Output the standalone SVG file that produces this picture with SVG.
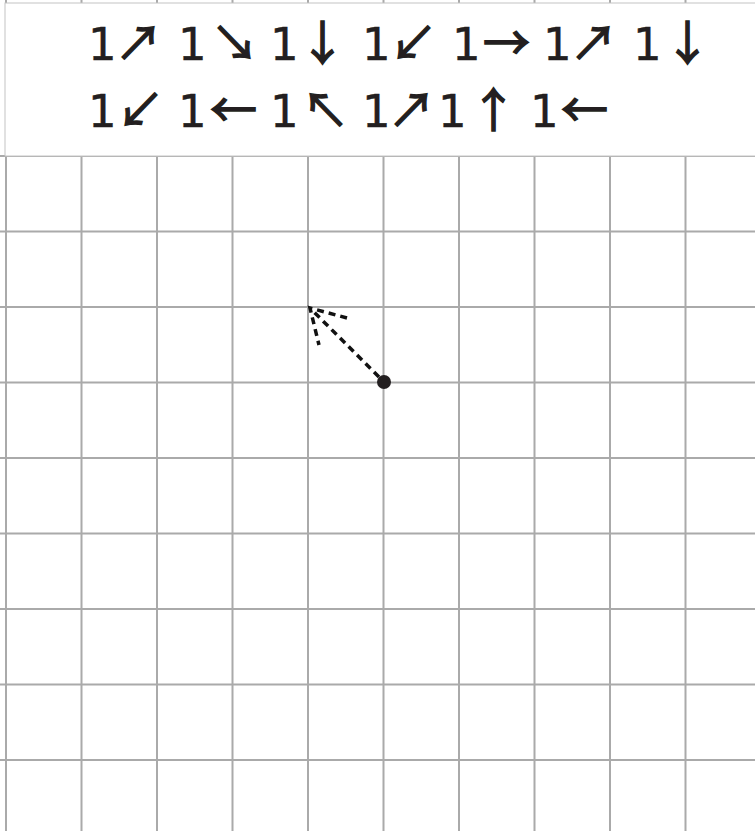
<svg xmlns="http://www.w3.org/2000/svg" width="755" height="831" viewBox="0 0 755 831">
<style>
.g{stroke:#aaaaaa;stroke-width:2;fill:none}
.t{font-family:"DejaVu Sans",sans-serif;font-size:45px;fill:#231f20;stroke:#231f20;stroke-width:0.4}
.a{font-family:"Noto Sans CJK JP","DejaVu Sans",sans-serif;font-size:47px;stroke-width:1.4}
.d{stroke:#111;stroke-width:3.5;stroke-dasharray:7 5;fill:none}
</style>
<rect width="755" height="831" fill="#ffffff"/>
<g id="grid" class="g">
<path d="M6 0V831M81.5 0V831M157 0V831M232.5 0V831M308 0V831M383.5 0V831M459 0V831M534.5 0V831M610 0V831M685.5 0V831"/>
<path d="M0 156H755M0 231.5H755M0 307H755M0 382.5H755M0 458H755M0 533.5H755M0 609H755M0 684.5H755M0 760H755"/>
</g>
<g id="header">
<rect x="5" y="3" width="760" height="153" fill="#ffffff" stroke="#c4c4c4" stroke-width="1"/>
<text class="t" y="60"><tspan x="88">1</tspan><tspan class="a" x="115">↗</tspan><tspan x="178">1</tspan><tspan class="a" x="211">↘</tspan><tspan x="270">1</tspan><tspan class="a" x="299">↓</tspan><tspan x="362">1</tspan><tspan class="a" x="390">↙</tspan><tspan x="452">1</tspan><tspan class="a" x="483">→</tspan><tspan x="543">1</tspan><tspan class="a" x="570">↗</tspan><tspan x="633">1</tspan><tspan class="a" x="664">↓</tspan></text>
<text class="t" y="127"><tspan x="88">1</tspan><tspan class="a" x="117">↙</tspan><tspan x="178">1</tspan><tspan class="a" x="210">←</tspan><tspan x="270">1</tspan><tspan class="a" x="302">↖</tspan><tspan x="362">1</tspan><tspan class="a" x="388">↗</tspan><tspan x="438">1</tspan><tspan class="a" x="470">↑</tspan><tspan x="530">1</tspan><tspan class="a" x="561">←</tspan></text>
</g>
<g id="connectors">
<path class="d" d="M379 377L310 308M347 318L310 308L319 345"/>
</g>
<g id="point">
<circle cx="384" cy="382" r="7" fill="#231f20"/>
</g>
</svg>
